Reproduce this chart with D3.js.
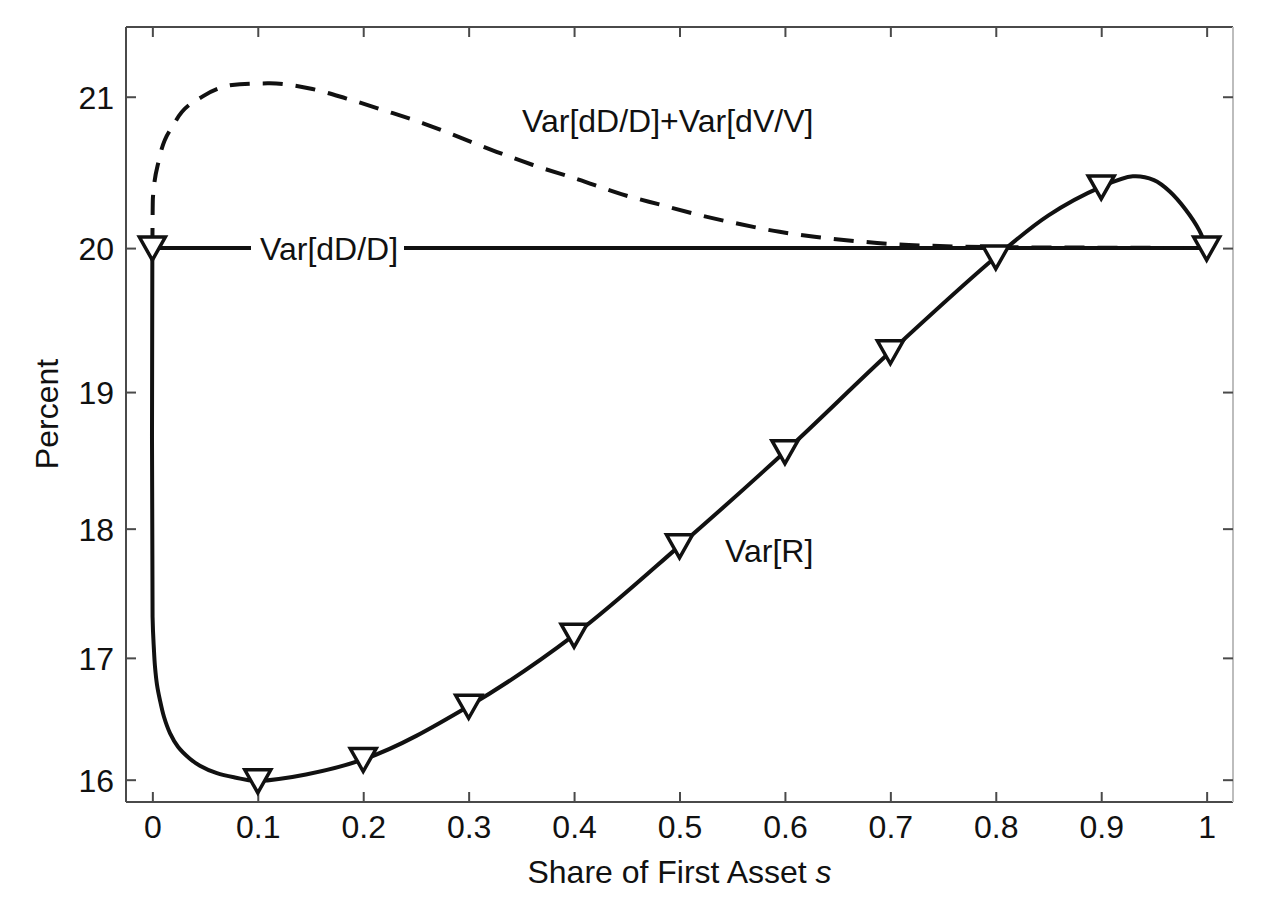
<!DOCTYPE html>
<html>
<head>
<meta charset="utf-8">
<script src="https://cdn.jsdelivr.net/npm/d3@7"></script>
<style>
  html, body { margin: 0; padding: 0; background: #fff; }
  svg { display: block; font-family: "Liberation Sans", Arial, Helvetica, sans-serif; }
</style>
</head>
<body>
<svg id="chart" width="1268" height="899"></svg>
<script>
// ---- data ----
const xTicks = [0, 0.1, 0.2, 0.3, 0.4, 0.5, 0.6, 0.7, 0.8, 0.9, 1];
const xTickLabels = ["0", "0.1", "0.2", "0.3", "0.4", "0.5", "0.6", "0.7", "0.8", "0.9", "1"];
const yTicks = [16, 17, 18, 19, 20, 21];
const yTickLabels = ["16", "17", "18", "19", "20", "21"];

// Var[R] curve (solid)
const varRShare = [0, 0.0002, 0.0015, 0.0025, 0.0044, 0.0072, 0.011, 0.0167, 0.0243, 0.0356, 0.0451, 0.0612, 0.0783, 0.1, 0.2, 0.3, 0.4, 0.5, 0.6, 0.7, 0.8, 0.85, 0.9, 0.93, 0.95, 0.965, 0.98, 0.993, 1];
const varRValue = [20, 17.324, 17.064, 16.93, 16.785, 16.66, 16.524, 16.39, 16.277, 16.177, 16.118, 16.055, 16.019, 15.99, 16.17, 16.61, 17.18, 17.87, 18.57, 19.285, 19.94, 20.22, 20.41, 20.48, 20.455, 20.38, 20.26, 20.12, 20];
// Var[R] markers
const markerShare = [0, 0.1, 0.2, 0.3, 0.4, 0.5, 0.6, 0.7, 0.8, 0.9, 1];
const markerValue = [20, 15.99, 16.17, 16.61, 17.18, 17.87, 18.57, 19.285, 19.94, 20.41, 20];

// Var[dD/D] + Var[dV/V] (dashed)
const sumShare = [0, 0.0005, 0.0062, 0.0214, 0.0482, 0.083, 0.1115, 0.1494, 0.1842, 0.2211, 0.2568, 0.2916, 0.3264, 0.361, 0.4037, 0.4448, 0.4828, 0.5191, 0.557, 0.5949, 0.6281, 0.666, 0.7055, 0.7466, 0.8, 0.9, 1];
const sumValue = [20, 20.336, 20.587, 20.834, 21.004, 21.081, 21.086, 21.053, 20.988, 20.909, 20.828, 20.736, 20.642, 20.555, 20.46, 20.362, 20.29, 20.222, 20.162, 20.11, 20.077, 20.048, 20.025, 20.014, 20.006, 20.003, 20];

// Var[dD/D] (solid horizontal)
const ddShare = [0, 1];
const ddValue = [20, 20];

// ---- layout ----
const svg = d3.select("#chart");
const L = 126, R = 1233, T = 27, B = 802;

const x = d3.scaleLinear().domain([-0.025, 1.025]).range([L, R]);
const y = d3.scalePow().exponent(2).domain([15.81, 21.445]).range([B, T]);

const ink = "#111";
const frame = "#4a4a4a";

// frame
svg.append("line").attr("x1", L).attr("x2", R).attr("y1", T).attr("y2", T).attr("stroke", frame).attr("stroke-width", 2);
svg.append("line").attr("x1", L).attr("x2", R).attr("y1", B).attr("y2", B).attr("stroke", frame).attr("stroke-width", 2);
svg.append("line").attr("x1", L).attr("x2", L).attr("y1", T).attr("y2", B).attr("stroke", frame).attr("stroke-width", 2);
svg.append("line").attr("x1", R).attr("x2", R).attr("y1", T).attr("y2", B).attr("stroke", "#bdbdbd").attr("stroke-width", 2);

// axes (inward ticks, MATLAB style)
const fs = 32;
const xAxisB = d3.axisBottom(x).tickValues(xTicks).tickFormat((d, i) => xTickLabels[i]).tickSizeInner(-10).tickSizeOuter(0).tickPadding(24);
const gxb = svg.append("g").attr("transform", `translate(0,${B})`).call(xAxisB);
const xAxisT = d3.axisTop(x).tickValues(xTicks).tickFormat("").tickSizeInner(-10).tickSizeOuter(0);
const gxt = svg.append("g").attr("transform", `translate(0,${T})`).call(xAxisT);
const yAxisL = d3.axisLeft(y).tickValues(yTicks).tickFormat((d, i) => yTickLabels[i]).tickSizeInner(-10).tickSizeOuter(0).tickPadding(24);
const gyl = svg.append("g").attr("transform", `translate(${L},0)`).call(yAxisL);
const yAxisR = d3.axisRight(y).tickValues(yTicks).tickFormat("").tickSizeInner(-10).tickSizeOuter(0);
const gyr = svg.append("g").attr("transform", `translate(${R},0)`).call(yAxisR);

[gxb, gxt, gyl, gyr].forEach(g => {
  g.select(".domain").remove();
  g.selectAll(".tick line").attr("stroke", frame).attr("stroke-width", 2);
  g.selectAll("text").attr("fill", ink).style("font-size", fs + "px").style("font-family", '"Liberation Sans", Arial, sans-serif');
});
gxb.selectAll("text").attr("dy", null).attr("y", 36);
gyl.selectAll("text").attr("dy", "0.36em").attr("x", -12);

// lines
const line = d3.line().x(d => x(d[0])).y(d => y(d[1]));
const lineSmooth = d3.line().x(d => x(d[0])).y(d => y(d[1])).curve(d3.curveMonotoneX);
const lineCR = d3.line().x(d => x(d[0])).y(d => y(d[1])).curve(d3.curveCatmullRom.alpha(0.5));

svg.append("path")
  .datum(ddShare.map((s, i) => [s, ddValue[i]]))
  .attr("d", line).attr("fill", "none").attr("stroke", ink).attr("stroke-width", 4);

svg.append("path")
  .datum(sumShare.map((s, i) => [s, sumValue[i]]))
  .attr("d", lineSmooth).attr("fill", "none").attr("stroke", ink).attr("stroke-width", 4)
  .attr("stroke-dasharray", "20,13");

svg.append("path")
  .datum(varRShare.map((s, i) => [s, varRValue[i]]))
  .attr("d", lineCR).attr("fill", "none").attr("stroke", ink).attr("stroke-width", 4);

// markers (downward triangles)
const tri = "M-13,-11 L13,-11 L0,12 Z";
svg.append("g").selectAll("path")
  .data(markerShare.map((s, i) => [s, markerValue[i]]))
  .join("path")
  .attr("d", tri)
  .attr("transform", d => `translate(${x(d[0])},${y(d[1])})`)
  .attr("fill", "#fff").attr("stroke", ink).attr("stroke-width", 3.5).attr("stroke-linejoin", "miter");

// in-plot labels
svg.append("rect").attr("x", 251).attr("y", 228).attr("width", 153).attr("height", 42).attr("fill", "#fff");
svg.append("text").attr("x", 260).attr("y", 260).attr("fill", ink).style("font-size", fs + "px").text("Var[dD/D]");
svg.append("text").attr("x", 522).attr("y", 132).attr("fill", ink).style("font-size", fs + "px").text("Var[dD/D]+Var[dV/V]");
svg.append("text").attr("x", 725).attr("y", 562).attr("fill", ink).style("font-size", fs + "px").text("Var[R]");

// axis titles
const xt = svg.append("text").attr("x", (L + R) / 2).attr("y", 883).attr("text-anchor", "middle")
  .attr("fill", ink).style("font-size", fs + "px");
xt.append("tspan").text("Share of First Asset ");
xt.append("tspan").style("font-style", "italic").text("s");

svg.append("text").attr("transform", "translate(58,414) rotate(-90)").attr("text-anchor", "middle")
  .attr("fill", ink).style("font-size", fs + "px").text("Percent");
</script>
</body>
</html>
